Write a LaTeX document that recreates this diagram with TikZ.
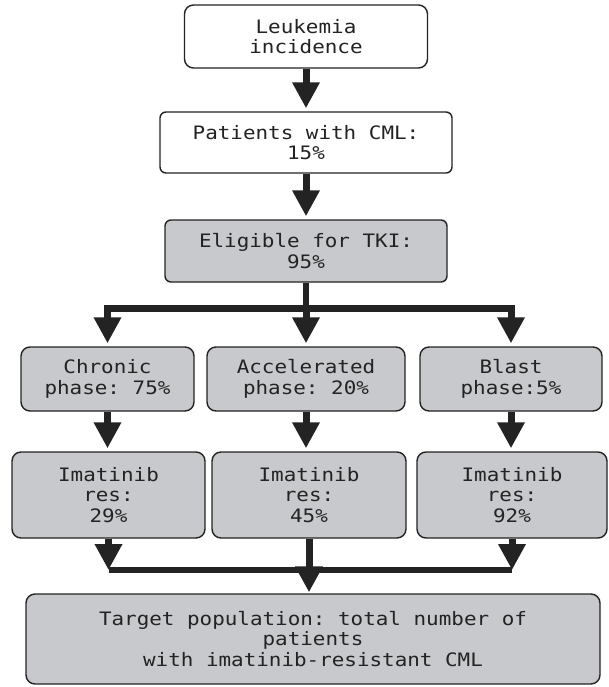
\documentclass[tikz,border=0pt]{standalone}
\usepackage{fontspec}
\setmonofont[FakeStretch=1.13]{DejaVu Sans Mono}
\usetikzlibrary{arrows.meta}
\definecolor{boxgray}{RGB}{200,201,204}
\definecolor{inkgray}{RGB}{35,35,35}

\begin{document}
\begin{tikzpicture}[x=1pt,y=-1pt,
  box/.style={draw=inkgray,line width=1.4pt,rounded corners=9pt,align=center,
    inner sep=0pt,text=inkgray,font=\ttfamily\fontsize{18.5}{20.5}\selectfont},
  plain/.style={box,fill=white},
  shaded/.style={box,fill=boxgray},
  flow/.style={line width=7pt,draw=inkgray,shorten >=3pt,
    -{Triangle[width=26pt,length=26pt]}},
  bar/.style={line width=5.5pt,draw=inkgray,line cap=square}]
\useasboundingbox (0,0) rectangle (608,687);
% top of the chart
\node[plain,minimum width=243pt,minimum height=63pt] (leuk) at (306,36.5)
  {Leukemia\\incidence};
\node[plain,rounded corners=6pt,minimum width=292pt,minimum height=61pt] (cml) at (306,142.5)
  {Patients with CML:\\15\%};
\node[shaded,rounded corners=6pt,minimum width=282pt,minimum height=62pt] (tki) at (306,251)
  {Eligible for TKI:\\95\%};
\draw[flow] (leuk.south) -- (leuk.south |- cml.north);
\draw[flow] (cml.south) -- (cml.south |- tki.north);
%
% the three phases
\node[shaded,minimum width=173pt,minimum height=64pt] (chronic) at (107.5,379)
  {Chronic\\phase: 75\%};
\node[shaded,minimum width=198pt,minimum height=64pt] (accel) at (306,379)
  {Accelerated\\phase: 20\%};
\node[shaded,minimum width=182pt,minimum height=64pt] (blast) at (511,379)
  {Blast\\phase:5\%};
\coordinate (split) at (306,308);
\draw[line width=6pt,draw=inkgray] (tki.south) -- (split);
\draw[flow] (split) -| (chronic.north);
\draw[flow] (split) -| (blast.north);
\draw[flow] (split) -- (accel.north);
%
% imatinib resistance
\node[shaded,minimum width=193pt,minimum height=86pt] (resA) at (108.5,495)
  {Imatinib\\res:\\29\%};
\node[shaded,minimum width=194pt,minimum height=86pt] (resB) at (309,495)
  {Imatinib\\res:\\45\%};
\node[shaded,minimum width=190pt,minimum height=86pt] (resC) at (512,495)
  {Imatinib\\res:\\92\%};
\draw[flow] (chronic.south) -- (chronic.south |- resA.north);
\draw[flow] (accel.south) -- (accel.south |- resB.north);
\draw[flow] (blast.south) -- (blast.south |- resC.north);
%
% target population
\node[shaded,minimum width=574pt,minimum height=90pt] (target) at (313,639)
  {Target population: total number of\\patients\\with imatinib-resistant CML};
\coordinate (merge) at (309,570);
\draw[bar] (resA.south |- merge) -- (resC.south |- merge);
\draw[flow,shorten >=0pt] (resA.south) -- (resA.south |- merge);
\draw[flow,shorten >=0pt] (resC.south) -- (resC.south |- merge);
\draw[flow,shorten >=1pt] (resB.south) -- (resB.south |- target.north);
\end{tikzpicture}
\end{document}
